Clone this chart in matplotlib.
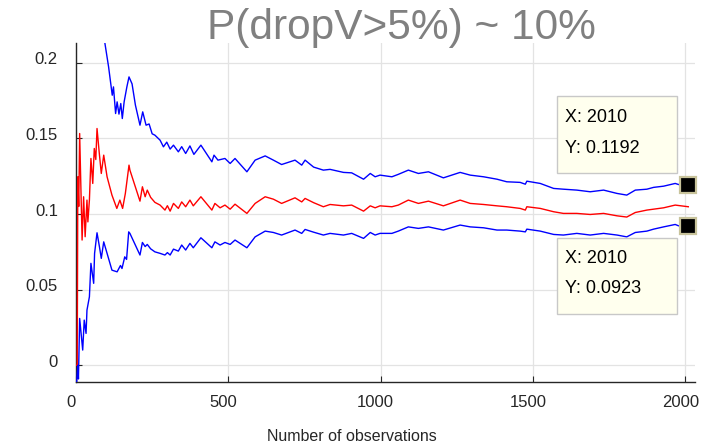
import matplotlib
matplotlib.use("Agg")
import matplotlib.pyplot as plt
from matplotlib.patches import Rectangle
from matplotlib.transforms import ScaledTranslation

plt.rcParams['font.family'] = ['Liberation Sans', 'DejaVu Sans']

# ---------------- data ----------------
red_x = [1, 4, 6, 9, 12, 16, 20, 25, 30, 36, 39, 44, 49, 55, 60, 65, 69, 76, 83, 91,
         102, 118, 134, 144, 153, 162, 174, 177, 210, 218, 227, 234, 245, 259, 276, 292,
         300, 309, 320, 336, 347, 360, 374, 385, 410, 446, 456, 473, 489, 506, 522, 561,
         588, 621, 648, 675, 719, 741, 752, 780, 812, 834, 878, 905, 944, 966, 982, 998,
         1037, 1058, 1091, 1124, 1157, 1206, 1261, 1294, 1338, 1382, 1414, 1458, 1475,
         1480, 1524, 1568, 1600, 1644, 1688, 1732, 1776, 1808, 1836, 1874, 1896, 1929,
         1967, 2010]
red_y = [0.0, 0.0, 0.1246, 0.105, 0.1532, 0.118, 0.0828, 0.1114, 0.085, 0.1092, 0.0948,
         0.1092, 0.1367, 0.1202, 0.1433, 0.136, 0.1565, 0.1411, 0.1268, 0.1389, 0.1246,
         0.1125, 0.1037, 0.1092, 0.1037, 0.1136, 0.1323, 0.129, 0.1085, 0.118, 0.1114,
         0.1158, 0.111, 0.1077, 0.1059, 0.1026, 0.1055, 0.1019, 0.107, 0.1037, 0.108,
         0.1048, 0.1092, 0.1054, 0.1114, 0.1026, 0.107, 0.1041, 0.1059, 0.1032, 0.1065,
         0.1004, 0.107, 0.1114, 0.1098, 0.107, 0.1107, 0.108, 0.1103, 0.1075, 0.1048,
         0.1063, 0.1054, 0.1059, 0.1019, 0.1054, 0.1041, 0.1054, 0.1048, 0.1059, 0.1092,
         0.107, 0.1085, 0.1054, 0.1092, 0.107, 0.1063, 0.1054, 0.1048, 0.1037, 0.1026,
         0.1048, 0.1037, 0.1015, 0.1004, 0.1004, 0.0997, 0.1004, 0.0988, 0.098, 0.101,
         0.1026, 0.1032, 0.1041, 0.1059, 0.1048]

up_x = [60, 80, 95, 107, 119, 123, 130, 135, 141, 147, 152, 158, 167, 174, 184, 195,
        210, 219, 230, 240, 250, 259, 276, 287, 298, 309, 320, 336, 347, 360, 374, 387,
        410, 446, 453, 466, 489, 506, 522, 561, 588, 621, 648, 675, 719, 741, 752, 780,
        812, 834, 878, 905, 944, 966, 982, 998, 1037, 1058, 1091, 1124, 1157, 1206, 1261,
        1294, 1338, 1382, 1414, 1458, 1475, 1480, 1524, 1568, 1600, 1644, 1688, 1732,
        1776, 1808, 1836, 1874, 1896, 1929, 1967, 1978, 2010]
up_y = [0.27, 0.245, 0.2127, 0.1972, 0.1785, 0.184, 0.1664, 0.1741, 0.166, 0.173, 0.1631,
        0.1741, 0.184, 0.1906, 0.186, 0.172, 0.1587, 0.1675, 0.1587, 0.1595, 0.153, 0.1521,
        0.1488, 0.1444, 0.1475, 0.1429, 0.1455, 0.1411, 0.1445, 0.14, 0.145, 0.1394,
        0.1455, 0.1345, 0.1389, 0.1356, 0.1367, 0.1334, 0.1367, 0.1279, 0.1356, 0.1384,
        0.1356, 0.1327, 0.1356, 0.1323, 0.1356, 0.131, 0.129, 0.1295, 0.1275, 0.1272,
        0.123, 0.1268, 0.1246, 0.1257, 0.1246, 0.1262, 0.129, 0.1268, 0.1279, 0.1239,
        0.1275, 0.1257, 0.1246, 0.123, 0.1213, 0.1209, 0.1197, 0.1217, 0.1202, 0.1169,
        0.1164, 0.1158, 0.1147, 0.1158, 0.1136, 0.1125, 0.1158, 0.1164, 0.1176, 0.1184,
        0.1202, 0.1195, 0.1192]

lo_x = [1, 4, 6, 8, 12, 22, 27, 33, 36, 44, 49, 58, 61, 69, 77, 83, 91, 102, 118, 135,
        146, 151, 160, 166, 173, 177, 210, 218, 227, 234, 245, 259, 276, 292, 300, 309,
        320, 336, 347, 360, 374, 385, 410, 446, 456, 473, 489, 506, 522, 561, 588, 621,
        648, 675, 719, 741, 752, 780, 812, 834, 878, 905, 944, 966, 982, 998, 1037, 1058,
        1091, 1124, 1157, 1206, 1261, 1294, 1338, 1382, 1414, 1458, 1475, 1480, 1524,
        1568, 1600, 1644, 1688, 1732, 1776, 1808, 1836, 1874, 1896, 1929, 1967, 1978, 2010]
lo_y = [-0.015, -0.0053, 0.0, -0.009, 0.031, 0.0101, 0.0299, 0.0211, 0.0365, 0.0453,
        0.0674, 0.0542, 0.074, 0.0876, 0.0783, 0.0707, 0.0816, 0.074, 0.0629, 0.0618,
        0.066, 0.064, 0.0717, 0.07, 0.0882, 0.0872, 0.0729, 0.0812, 0.0785, 0.0799, 0.077,
        0.075, 0.074, 0.0729, 0.0745, 0.0729, 0.0768, 0.0755, 0.0795, 0.0762, 0.0806,
        0.0777, 0.0843, 0.0777, 0.0816, 0.0795, 0.0812, 0.0799, 0.0828, 0.0777, 0.0849,
        0.0887, 0.0878, 0.0861, 0.0894, 0.0872, 0.0898, 0.088, 0.0861, 0.0872, 0.0861,
        0.0872, 0.0839, 0.0878, 0.0861, 0.0872, 0.0872, 0.0887, 0.0915, 0.0905, 0.0915,
        0.0894, 0.0927, 0.0915, 0.0909, 0.0894, 0.0894, 0.0887, 0.0882, 0.09, 0.0887,
        0.0865, 0.0861, 0.0872, 0.0861, 0.0872, 0.0861, 0.0849, 0.0878, 0.0887, 0.09,
        0.0915, 0.0931, 0.0922, 0.0923]

x_ticks = [0, 500, 1000, 1500, 2000]
x_tick_labels = ["0", "500", "1000", "1500", "2000"]
y_ticks = [0, 0.05, 0.1, 0.15, 0.2]
y_tick_labels = ["0", "0.05", "0.1", "0.15", "0.2"]

tip_x = [2010, 2010]
tip_y = [0.1192, 0.0923]
tip_texts = [("X: 2010", "Y: 0.1192"), ("X: 2010", "Y: 0.0923")]

title_text = "P(dropV>5%) ~ 10%"
xlabel_text = "Number of observations"

# ---------------- figure ----------------
W, H = 711, 446
fig = plt.figure(figsize=(W / 100, H / 100), dpi=100)
ax = fig.add_axes([76 / W, 1 - 382.3 / H, (695 - 76) / W, (382.3 - 42.7) / H])

ax.plot(red_x, red_y, color='#FF0000', lw=1.0, zorder=3)
ax.plot(up_x, up_y, color='#0000FF', lw=1.0, zorder=3)
ax.plot(lo_x, lo_y, color='#0000FF', lw=1.0, zorder=3)

ax.plot(tip_x, tip_y, linestyle='none', marker='s', markersize=11.5,
        markerfacecolor='black', markeredgecolor='#C8C39B', markeredgewidth=1.6,
        clip_on=False, zorder=6)

ax.set_xlim(0, 2032)
ax.set_ylim(-0.0112, 0.2132)

ax.set_xticks(x_ticks)
ax.set_xticklabels(x_tick_labels)
ax.set_yticks(y_ticks)
ax.set_yticklabels(y_tick_labels)

for s in ['top', 'right']:
    ax.spines[s].set_visible(False)
for s in ['left', 'bottom']:
    ax.spines[s].set_color('#262626')
    ax.spines[s].set_linewidth(1.0)

ax.tick_params(axis='both', direction='in', length=4, width=0.8, colors='#262626',
               labelsize=12, labelcolor='#262626')
ax.tick_params(axis='x', pad=9)
ax.tick_params(axis='y', pad=13)

for lab in ax.get_xticklabels():
    lab.set_transform(lab.get_transform() + ScaledTranslation(-5 / 100, 0, fig.dpi_scale_trans))
for lab in ax.get_yticklabels():
    lab.set_transform(lab.get_transform() + ScaledTranslation(0, 4.5 / 100, fig.dpi_scale_trans))

ax.grid(True, color='#E3E3E3', linewidth=0.9, zorder=0)
ax.set_axisbelow(True)

# title and xlabel
fig.text(401 / W, 1 - 39.3 / H, title_text, ha='center', va='baseline',
         fontsize=30.5, color='#808080')
fig.text(351.5 / W, 1 - 441 / H, xlabel_text, ha='center', va='baseline',
         fontsize=11.5, color='#262626')

# data tip boxes
boxes = [(557.3, 96, 676.7, 173.3), (557.3, 238.3, 676.7, 314.3)]
baselines = [(121.7, 153.3), (263.3, 293.3)]
for (x0, y0, x1, y1), (b1, b2), (t1, t2) in zip(boxes, baselines, tip_texts):
    fig.add_artist(Rectangle((x0 / W, 1 - y1 / H), (x1 - x0) / W, (y1 - y0) / H,
                             transform=fig.transFigure, facecolor='#FFFFEE',
                             edgecolor='#C8C8C8', linewidth=1.0, zorder=5))
    fig.text(565 / W, 1 - b1 / H, t1, ha='left', va='baseline', fontsize=13,
             color='black', zorder=6)
    fig.text(565 / W, 1 - b2 / H, t2, ha='left', va='baseline', fontsize=13,
             color='black', zorder=6)

fig.savefig("out.png", dpi=100)
